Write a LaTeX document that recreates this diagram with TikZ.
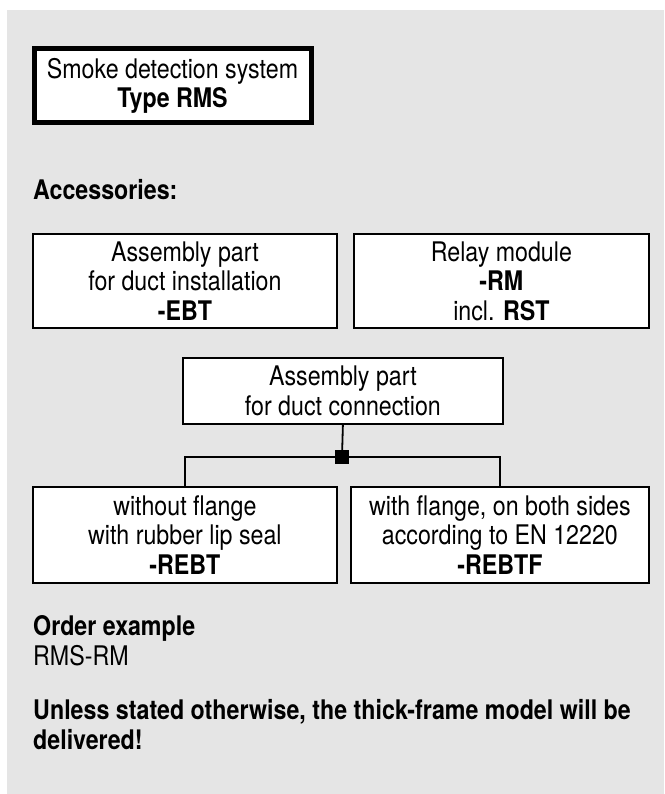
\documentclass[tikz,border=0pt]{standalone}
\usepackage{fontspec}
\setmainfont{TeX Gyre Heros}[FakeStretch=0.86]
\definecolor{bggray}{HTML}{E5E5E5}
\begin{document}
\begin{tikzpicture}[x=1pt,y=-1pt,
  every node/.style={font=\fontsize{27}{29.5}\selectfont},
  box/.style={draw, line width=1.8pt, fill=white, align=center, anchor=north west, inner sep=0pt},
  plain/.style={anchor=west, inner sep=0pt, align=left},
]
\useasboundingbox (0,0) rectangle (664,794);
\fill[bggray] (7,10) rectangle (664,794);

\node[draw, line width=5pt, fill=white, align=center, anchor=north west,
      inner sep=0pt, minimum width=277pt, minimum height=74pt] (title) at (31.5,46.5)
  {Smoke detection system\\\textbf{Type RMS}};

\node[plain] (acc) at (33,190) {\textbf{Accessories:}};

\node[box, minimum width=304pt, minimum height=94pt] (ebt) at (32,233)
  {Assembly part\\for duct installation\\\textbf{-EBT}};
\node[box, minimum width=295pt, minimum height=94pt] (rm) at (353,233)
  {Relay module\\\textbf{-RM}\\incl. \textbf{RST}};

\node[box, minimum width=320pt, minimum height=66pt] (conn) at (182,357)
  {Assembly part\\for duct connection};

\node[box, minimum width=304pt, minimum height=96pt] (rebt) at (32,486)
  {without flange\\with rubber lip seal\\\textbf{-REBT}};
\node[box, minimum width=298pt, minimum height=96pt] (rebtf) at (350,486)
  {with flange, on both sides\\according to EN 12220\\\textbf{-REBTF}};

\node[fill=black, minimum size=14pt, inner sep=0pt] (j) at (342,457) {};
\draw[line width=1.8pt] (conn.south) -- (j.center);
\draw[line width=1.8pt] (j.center) -| (rebt.north);
\draw[line width=1.8pt] (j.center) -| (rebtf.north);

\node[plain] (ord) at (33,628) {\textbf{Order example}};
\node[plain] (ex) at (33,656) {RMS-RM};
\node[plain] (note1) at (33,712) {\textbf{Unless stated otherwise, the thick-frame model will be}};
\node[plain] (note2) at (33,740) {\textbf{delivered!}};
\end{tikzpicture}
\end{document}
